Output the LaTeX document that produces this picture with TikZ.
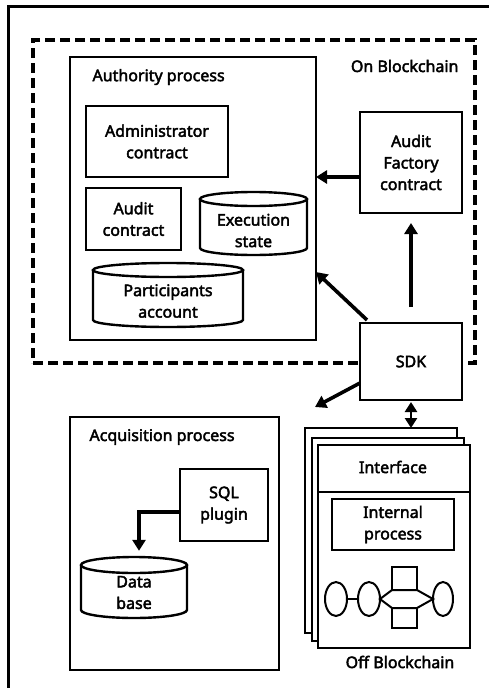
\documentclass[tikz,border=0pt]{standalone}
\usepackage{fontspec}
\setmainfont{Noto Sans}
\newfontfamily\lblfont{Noto Sans}[FakeBold=2.6]
\usetikzlibrary{arrows.meta,shapes.geometric}
\begin{document}
\begin{tikzpicture}[x=1pt,y=-1pt,
  box/.style={draw, line width=2.4pt, inner sep=0pt, outer sep=0pt, fill=white},
  lbl/.style={font=\lblfont\fontsize{16}{21.5}\selectfont, align=center},
  arr/.style={line width=3.6pt, -{Triangle[length=11pt,width=13pt]}},
  dbl/.style={line width=2.6pt, {Triangle[length=10pt,width=12pt]}-{Triangle[length=10pt,width=12pt]}},
  dashbox/.style={draw, line width=4pt, dash pattern=on 10pt off 5pt, inner sep=0pt, outer sep=0pt},
  flow/.style={draw, line width=2pt, inner sep=0pt, outer sep=0pt, fill=white},
]
\useasboundingbox (0,0) rectangle (489,688);
\fill[white] (0,0) rectangle (489,688);

% outer frame
\draw[line width=3pt] (8.5,690) -- (8.5,6.5) -- (490,6.5);

% on-chain region
\node[dashbox, minimum width=442pt, minimum height=323pt] (onchain) at (254,201.5) {};
\node[lbl, anchor=east] (onlbl) at (462,66) {On Blockchain};

% authority process
\node[box, minimum width=246pt, minimum height=283pt] (auth) at (193,198.5) {};
\node[lbl, anchor=west] (authlbl) at (89,77) {Authority process};
\node[box, lbl, minimum width=142pt, minimum height=71pt] (admin) at (157,141.5) {Administrator\\contract};
\node[box, lbl, minimum width=95pt, minimum height=62pt] (audit) at (133.5,219) {Audit\\contract};

% cylinders
\draw[line width=2.4pt, fill=white] (200,199) -- (200,248) arc[start angle=180,end angle=360,x radius=53.5pt,y radius=7pt] -- (307,199);
\draw[line width=2.4pt, fill=white] (253.5,199) ellipse [x radius=53.5pt, y radius=7pt];
\node[lbl, inner sep=0pt] (exec) at (253.5,230.5) {Execution\\state};

\draw[line width=2.4pt, fill=white] (93,270) -- (93,320) arc[start angle=180,end angle=360,x radius=75pt,y radius=7pt] -- (243,270);
\draw[line width=2.4pt, fill=white] (168,270) ellipse [x radius=75pt, y radius=7pt];
\node[lbl, inner sep=0pt] (part) at (168,301) {Participants\\account};

% audit factory and SDK
\node[box, lbl, minimum width=102pt, minimum height=101pt] (factory) at (411,162.5) {Audit\\Factory\\contract};
\node[box, lbl, minimum width=102pt, minimum height=77pt] (sdk) at (411,361.5) {SDK};

\draw[arr] ([yshift=-14.5pt]factory.west) coordinate (fa) -- (fa -| auth.east);
\draw[arr, shorten <=16pt, shorten >=10pt] (sdk.north) -- (factory.south);
\draw[arr] ([shift={(7pt,3pt)}]sdk.north west) -- ([yshift=-73.5pt]auth.east);
\coordinate (offend) at (315,407);
\draw[arr] ([yshift=-21.5pt]sdk.west) -- (offend);

% acquisition process
\node[box, minimum width=209pt, minimum height=253pt] (acq) at (174.5,543.5) {};
\node[lbl, anchor=west] (acqlbl) at (86,437) {Acquisition process};
\node[box, lbl, minimum width=88pt, minimum height=72pt] (sql) at (224,505) {SQL\\plugin};

\draw[line width=2.4pt, fill=white] (81,565) -- (81,610) arc[start angle=180,end angle=360,x radius=53pt,y radius=8pt] -- (187,565);
\draw[line width=2.4pt, fill=white] (134,565) ellipse [x radius=53pt, y radius=8pt];
\node[minimum width=106pt, minimum height=61pt, inner sep=0pt] (db) at (134,587.5) {};
\node[lbl, inner sep=0pt] (dbtxt) at (134,592.5) {Data\\base};

\draw[arr, shorten >=6pt] ([yshift=-7pt]sql.west) -| ([xshift=5pt]db.north);

% off-chain interface pages
\node[box, minimum width=152pt, minimum height=205pt] (back) at (381,530.5) {};
\node[box, minimum width=152pt, minimum height=203pt] (middle) at (388,539.5) {};
\node[box, minimum width=152pt, minimum height=203pt] (front) at (394,546.5) {};
\draw[line width=2.4pt] (front.west |- 0,492) -- (front.east |- 0,492);
\node[lbl] (iface) at (393,467) {Interface};
\node[box, lbl, minimum width=122pt, minimum height=51pt] (internal) at (393,524.5) {Internal\\process};
\node[lbl] (offlbl) at (400,662) {Off Blockchain};

\draw[dbl, shorten <=2pt] (sdk.south) -- (sdk.south |- back.north);

% process flow sketch
\node[flow, ellipse, minimum width=22pt, minimum height=34pt] (e1) at (336,599) {};
\node[flow, ellipse, minimum width=22pt, minimum height=34pt] (e2) at (369,599) {};
\node[flow, ellipse, minimum width=20pt, minimum height=34pt] (e3) at (443,599) {};
\draw[line width=1.4pt] (e1.east) -- (e2.west);
\node[flow, minimum width=25pt, minimum height=23pt] (sq1) at (404.5,578.5) {};
\node[flow, minimum width=25pt, minimum height=20pt] (sq2) at (404.5,618) {};
\draw[line width=2pt, line join=miter] (e2.east) -- (392,590) -- (417,590) -- (e3.west) -- (417,608) -- (392,608) -- cycle;
\end{tikzpicture}
\end{document}
